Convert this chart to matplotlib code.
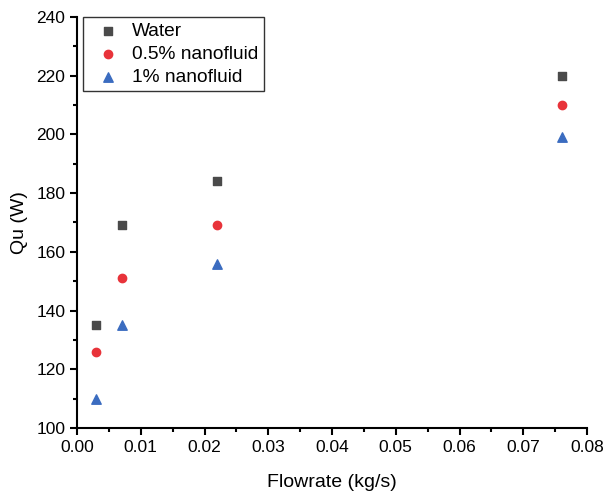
import matplotlib.pyplot as plt
from matplotlib.ticker import AutoMinorLocator

plt.rcParams['font.family'] = ['Liberation Sans', 'DejaVu Sans']

flowrate = [0.003, 0.007, 0.022, 0.076]
water = [135, 169, 184, 220]
nano_05 = [126, 151, 169, 210]
nano_1 = [110, 135, 156, 199]

fig = plt.figure(figsize=(6.04, 4.96), dpi=100)
ax = fig.add_axes([0.1275, 0.137, 0.8445, 0.829])

ax.scatter(flowrate, water, marker='s', s=36, color='#4a4a4a', label='Water')
ax.scatter(flowrate, nano_05, marker='o', s=36, color='#e8333a', label='0.5% nanofluid')
ax.scatter(flowrate, nano_1, marker='^', s=46, color='#3b6cc0', label='1% nanofluid')

ax.set_xlim(0, 0.08)
ax.set_ylim(100, 240)
ax.set_xticks([0.00, 0.01, 0.02, 0.03, 0.04, 0.05, 0.06, 0.07, 0.08])
ax.set_xticklabels(['0.00', '0.01', '0.02', '0.03', '0.04', '0.05', '0.06', '0.07', '0.08'])
ax.set_yticks(range(100, 241, 20))
ax.xaxis.set_minor_locator(AutoMinorLocator(2))
ax.yaxis.set_minor_locator(AutoMinorLocator(2))

ax.spines['top'].set_visible(False)
ax.spines['right'].set_visible(False)
ax.spines['left'].set_linewidth(1.5)
ax.spines['bottom'].set_linewidth(1.5)
ax.tick_params(axis='both', which='major', direction='out', length=5, width=1.5, labelsize=12.5)
ax.tick_params(axis='both', which='minor', direction='out', length=3, width=1.5)

ax.set_xlabel('Flowrate (kg/s)', fontsize=14, labelpad=14)
ax.set_ylabel('Qu (W)', fontsize=14, labelpad=6)

leg = ax.legend(loc='upper left', fontsize=13.8, frameon=True, fancybox=False,
                edgecolor='black', borderaxespad=0.0, handletextpad=0.25,
                labelspacing=0.28, borderpad=0.3,
                bbox_to_anchor=(0.012, 1.0))
leg.get_frame().set_linewidth(1.0)

fig.savefig('out.png', dpi=100)
